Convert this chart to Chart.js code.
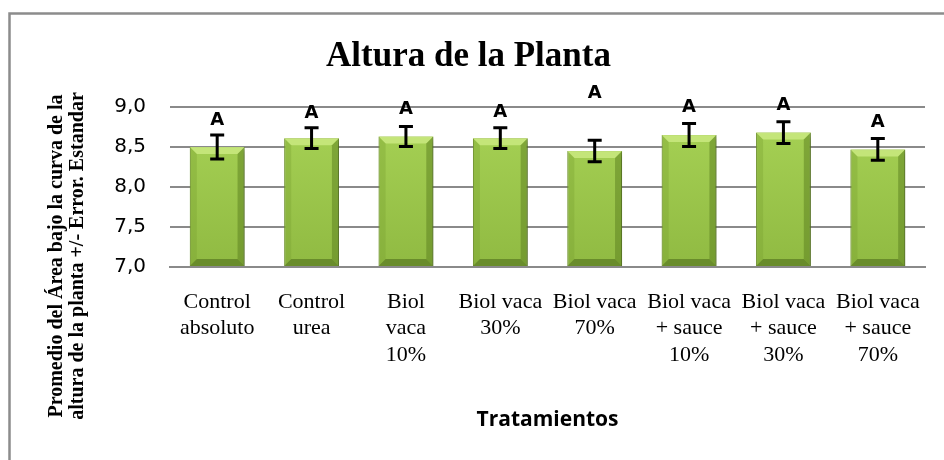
<!DOCTYPE html>
<html>
<head>
<meta charset="utf-8">
<script src="https://cdn.jsdelivr.net/npm/chart.js@4/dist/chart.umd.min.js"></script>
<style>
  html, body { margin: 0; padding: 0; background: #fff; }
  #wrap { width: 944px; height: 460px; position: relative; }
</style>
</head>
<body>
<div id="wrap"><canvas id="alturaChart" width="944" height="460"></canvas></div>
<script>
// treatments (x axis labels, already wrapped like in the original)
var treatments = [
    ['Control', 'absoluto'],
    ['Control', 'urea'],
    ['Biol', 'vaca', '10%'],
    ['Biol vaca', '30%'],
    ['Biol vaca', '70%'],
    ['Biol vaca', '+ sauce', '10%'],
    ['Biol vaca', '+ sauce', '30%'],
    ['Biol vaca', '+ sauce', '70%']
];
// mean plant height and standard error
var means = [8.50, 8.61, 8.63, 8.61, 8.45, 8.65, 8.68, 8.47];
var stdErr = [0.15, 0.13, 0.125, 0.13, 0.135, 0.145, 0.135, 0.135];
// Tukey letters and the height they are written at (data units)
var letters = ['A', 'A', 'A', 'A', 'A', 'A', 'A', 'A'];
var letterAt = [8.83, 8.92, 8.97, 8.93, 9.17, 8.99, 9.02, 8.81];
var yMin = 7.0, yMax = 9.0, yStep = 0.5;

var yTitle = ['Promedio del Área bajo la curva de la', 'altura de la planta +/- Error. Estandar'];

// outer frame (only top and left show in the original)
var framePlugin = {
    id: 'frame',
    beforeDraw: function (chart) {
        var c = chart.ctx;
        c.save();
        c.strokeStyle = '#8c8c8c';
        c.lineWidth = 2.5;
        c.beginPath();
        c.moveTo(9.5, chart.height);
        c.lineTo(9.5, 13.5);
        c.lineTo(chart.width, 13.5);
        c.stroke();
        c.restore();
    }
};

// shadow + bevel look of the excel bars
var bevelPlugin = {
    id: 'bevel',
    beforeDatasetsDraw: function (chart) {
        var c = chart.ctx;
        c.save();
        c.shadowColor = 'rgba(0,0,0,0.35)';
        c.shadowBlur = 5;
        c.shadowOffsetX = 3;
        c.shadowOffsetY = 3;
    },
    afterDatasetsDraw: function (chart) {
        var c = chart.ctx;
        c.restore();
        var meta = chart.getDatasetMeta(0);
        meta.data.forEach(function (bar) {
            var p = bar.getProps(['x', 'y', 'base', 'width'], true);
            var l = p.x - p.width / 2, r = p.x + p.width / 2;
            var t = p.y, b = Math.min(p.base, chart.chartArea.bottom), s = 7;
            function quad(pts, col) {
                c.beginPath();
                c.moveTo(pts[0][0], pts[0][1]);
                for (var i = 1; i < pts.length; i++) c.lineTo(pts[i][0], pts[i][1]);
                c.closePath();
                c.fillStyle = col;
                c.fill();
            }
            c.save();
            quad([[l, t], [r, t], [r - s, t + s], [l + s, t + s]], 'rgba(200,232,125,0.9)');
            quad([[l, t], [l + s, t + s], [l + s, b - s], [l, b]], 'rgba(120,160,50,0.35)');
            quad([[r, t], [r - s, t + s], [r - s, b - s], [r, b]], 'rgba(90,125,30,0.5)');
            quad([[l, b], [l + s, b - s], [r - s, b - s], [r, b]], 'rgba(85,115,30,0.65)');
            c.restore();
        });
    }
};

// error bars, significance letters, y axis title
var extrasPlugin = {
    id: 'extras',
    afterDatasetsDraw: function (chart) {
        var c = chart.ctx;
        var y = chart.scales.y;
        var meta = chart.getDatasetMeta(0);
        c.save();
        c.strokeStyle = '#000';
        c.lineWidth = 3;
        meta.data.forEach(function (bar, i) {
            var yt = y.getPixelForValue(means[i] + stdErr[i]);
            var yb = y.getPixelForValue(means[i] - stdErr[i]);
            c.beginPath();
            c.moveTo(bar.x, yt); c.lineTo(bar.x, yb);
            c.moveTo(bar.x - 7, yt); c.lineTo(bar.x + 7, yt);
            c.moveTo(bar.x - 7, yb); c.lineTo(bar.x + 7, yb);
            c.stroke();
            c.fillStyle = '#000';
            c.font = 'bold 18px "DejaVu Sans"';
            c.textAlign = 'center';
            c.textBaseline = 'middle';
            c.fillText(letters[i], bar.x, y.getPixelForValue(letterAt[i]));
        });
        // y axis title, centered on the whole left side like excel does
        c.font = 'bold 20px "Liberation Serif"';
        c.fillStyle = '#000';
        c.textAlign = 'center';
        c.textBaseline = 'middle';
        for (var k = 0; k < yTitle.length; k++) {
            c.save();
            c.translate(57 + k * 21, 256);
            c.rotate(-Math.PI / 2);
            c.fillText(yTitle[k], 0, 0);
            c.restore();
        }
        c.restore();
    }
};

var ctx = document.getElementById('alturaChart').getContext('2d');
var chart = new Chart(ctx, {
    type: 'bar',
    data: {
        labels: treatments,
        datasets: [{
            label: 'Altura de la Planta',
            data: means,
            base: yMin,
            backgroundColor: function (context) {
                var area = context.chart.chartArea;
                if (!area) return '#9bc24b';
                var g = context.chart.ctx.createLinearGradient(0, area.top, 0, area.bottom);
                g.addColorStop(0, '#a8d356');
                g.addColorStop(1, '#90ba42');
                return g;
            },
            borderColor: '#6f8f2f',
            borderWidth: 1,
            barPercentage: 0.58,
            categoryPercentage: 1.0
        }]
    },
    options: {
        responsive: false,
        animation: false,
        layout: {
            padding: { left: 12, right: 19, top: 0, bottom: 0 }
        },
        plugins: {
            legend: { display: false },
            tooltip: { enabled: false },
            title: {
                display: true,
                text: 'Altura de la Planta',
                color: '#000',
                font: { family: 'Liberation Serif', size: 35, weight: 'bold', lineHeight: 1.2 },
                padding: { top: 36, bottom: 29 }
            }
        },
        scales: {
            x: {
                grid: { display: false, drawTicks: false },
                border: { display: true, color: '#8a8a8a', width: 2 },
                ticks: {
                    color: '#000',
                    autoSkip: false,
                    maxRotation: 0,
                    minRotation: 0,
                    padding: 22,
                    font: { family: 'Liberation Serif', size: 22, lineHeight: 1.2 }
                },
                title: {
                    display: true,
                    text: 'Tratamientos',
                    color: '#000',
                    font: { family: 'Open Sans', size: 21, weight: 'bold', lineHeight: 1.2 },
                    padding: { top: 0, bottom: 27 }
                },
                afterFit: function (scale) { scale.height = 193; }
            },
            y: {
                min: yMin,
                max: yMax,
                grid: { color: '#8a8a8a', lineWidth: 2, drawTicks: false },
                border: { display: false },
                ticks: {
                    stepSize: yStep,
                    color: '#000',
                    padding: 24,
                    font: { family: 'DejaVu Sans', size: 20 },
                    callback: function (v) { return v.toFixed(1).replace('.', ','); }
                },
                afterFit: function (scale) { scale.width = 158; }
            }
        }
    },
    plugins: [framePlugin, bevelPlugin, extrasPlugin]
});
</script>
</body>
</html>
